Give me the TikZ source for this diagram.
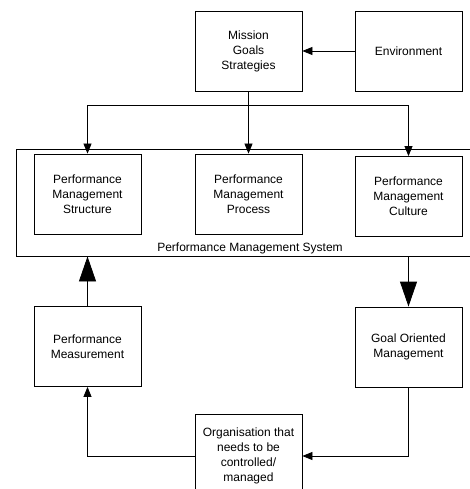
\documentclass[tikz,border=0pt]{standalone}
\usepackage{fontspec}
\setmainfont{Liberation Sans}
\usetikzlibrary{arrows.meta}
\tikzset{
  box/.style={draw=black, line width=0.8pt, minimum width=107pt, minimum height=80pt,
    align=center, inner sep=2pt, font=\fontsize{12}{15}\selectfont},
  conn/.style={draw=black, line width=0.8pt},
  small/.style={conn, -{Triangle[length=10pt,width=8pt]}},
  big/.style={conn, -{Triangle[length=25pt,width=17pt]}},
  lbl/.style={font=\fontsize{12}{15}\selectfont}
}
\begin{document}
\begin{tikzpicture}[x=1pt,y=-1pt]
\useasboundingbox (0,0) rectangle (470,489);
% system frame
\node[draw=black, line width=0.8pt, minimum width=470pt, minimum height=107pt, inner sep=0pt] (sys) at (251,202.5) {};
\node[lbl] (syslabel) at (250,248) {Performance Management System};
% boxes
\node[box] (mission) at (248.5,51) {Mission\\Goals\\Strategies};
\node[box] (env) at (408.5,51) {Environment};
\node[box] (structure) at (87.5,194) {Performance\\Management\\Structure};
\node[box] (process) at (248.5,194) {Performance\\Management\\Process};
\node[box] (culture) at (408.5,196.5) {Performance\\Management\\Culture};
\node[box] (meas) at (87.5,346.5) {Performance\\Measurement};
\node[box] (goal) at (408.5,347) {Goal Oriented\\Management};
\node[box, minimum height=84pt] (org) at (248.5,456) {Organisation that\\needs to be\\controlled/\\managed};
% connectors
\coordinate (split) at (248.5,105);
\draw[small] (env.west) -- (mission.east);
\draw[conn] (mission.south) -- (split);
\draw[small] (split) -- (process.north);
\draw[small] (split) -| (structure.north);
\draw[small] (split) -| (culture.north);
\draw[big] (meas.north) -- (meas.north |- sys.south);
\draw[big] (goal.north |- sys.south) -- (goal.north);
\draw[small] (goal.south) |- (org.east);
\draw[small] (org.west) -| (meas.south);
\end{tikzpicture}
\end{document}
